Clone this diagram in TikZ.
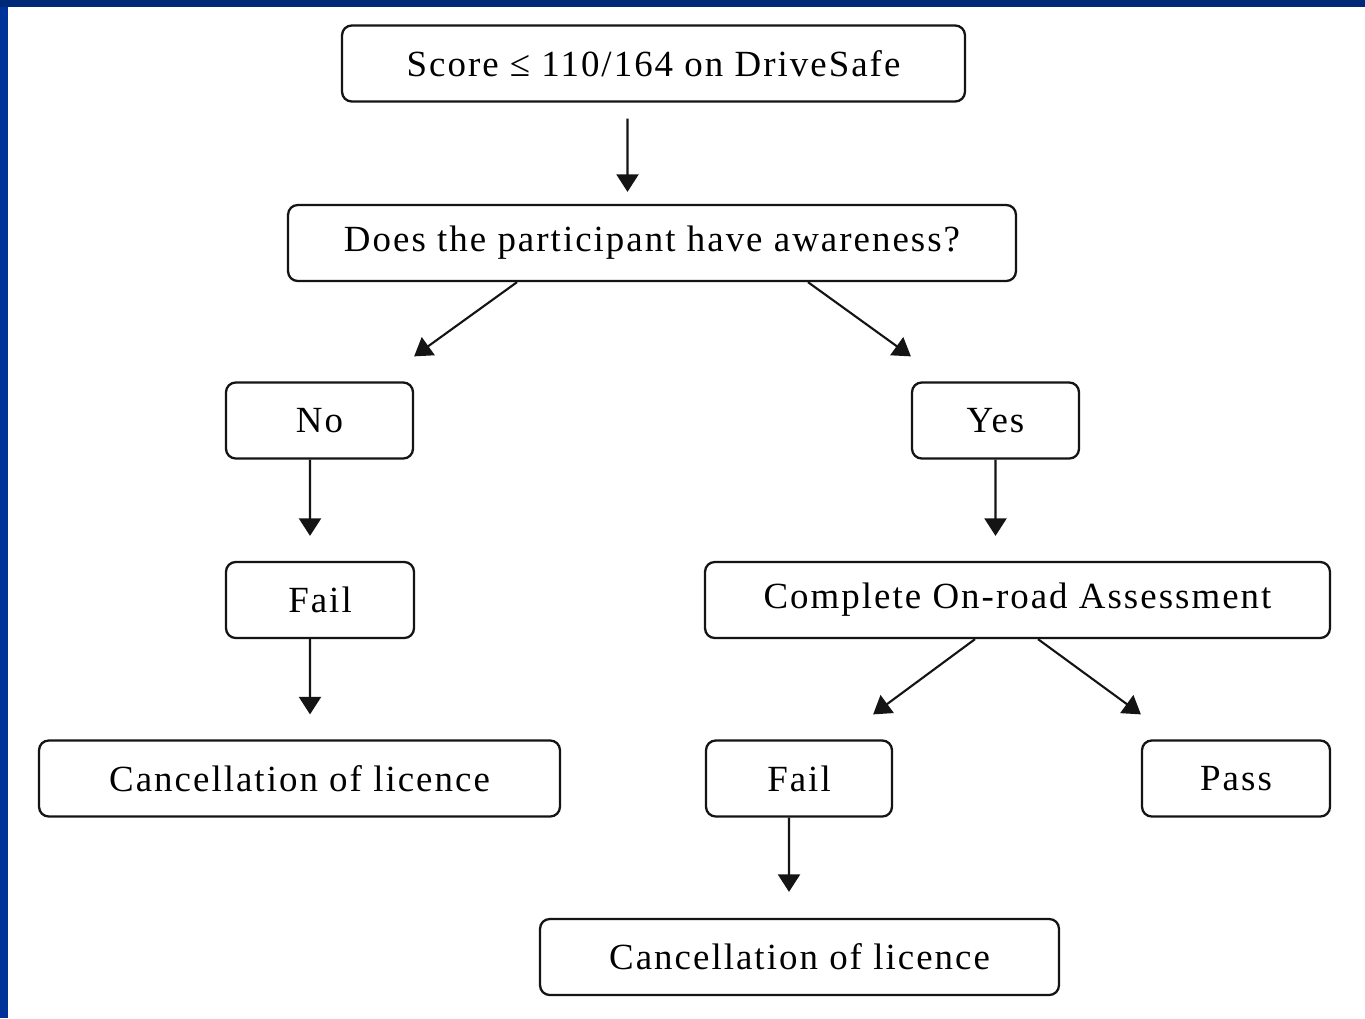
\documentclass[tikz,border=0pt]{standalone}
\usepackage{fontspec}
\setmainfont{Liberation Serif}
\newfontfamily\flowfont[LetterSpace=5.5]{Liberation Serif}
\usetikzlibrary{arrows.meta,calc}
\definecolor{frametop}{RGB}{0,40,120}
\definecolor{frameleft}{RGB}{0,51,153}
\definecolor{figline}{RGB}{20,20,20}
\tikzset{
  flowbox/.style ={draw=figline, line width=1.3pt, rounded corners=5.5pt,
                   minimum height=1.52cm, inner sep=2pt,
                   font=\flowfont\fontsize{21}{25}\selectfont},
  flowarr/.style ={draw=figline, line width=1.2pt,
                   -{Triangle[length=0.35cm,width=0.44cm]}},
}
\begin{document}
\begin{tikzpicture}[x=0.02cm,y=-0.02cm]
  \useasboundingbox (0,0) rectangle (1365,1018);
  \fill[white] (0,0) rectangle (1365,1018);
  \fill[frameleft] (0,0) rectangle (8,1018);
  \fill[frametop] (0,0) rectangle (1365,7);
  % boxes
  \node[flowbox,minimum width=12.46cm] (score)   at (653.5,63.5) {Score ≤ 110/164 on DriveSafe};
  \node[flowbox,minimum width=14.56cm] (aware)   at (652,243)    {Does the participant have awareness?};
  \node[flowbox,minimum width=3.74cm]  (no)      at (319.5,420.5) {No};
  \node[flowbox,minimum width=3.34cm]  (yes)     at (995.5,420.5) {Yes};
  \node[flowbox,minimum width=3.76cm]  (failA)   at (320,600)    {Fail};
  \node[flowbox,minimum width=12.5cm]  (onroad)  at (1017.5,600) {Complete On-road Assessment};
  \node[flowbox,minimum width=10.42cm] (cancelA) at (299.5,778.5) {Cancellation of licence};
  \node[flowbox,minimum width=3.72cm]  (failB)   at (799,778.5)  {Fail};
  \node[flowbox,minimum width=3.76cm]  (pass)    at (1236,778.5) {Pass};
  \node[flowbox,minimum width=10.38cm] (cancelB) at (799.5,957)  {Cancellation of licence};
  % arrows
  \draw[flowarr] ([xshift=-0.52cm,yshift=-0.32cm]score.south) -- ([xshift=-0.49cm,yshift=0.24cm]aware.north);
  \draw[flowarr] ([xshift=-2.7cm]aware.south) -- ([yshift=0.5cm]no.north east);
  \draw[flowarr] ([xshift=3.12cm]aware.south) -- ([yshift=0.5cm]yes.north west);
  \draw[flowarr] ([xshift=-0.19cm]no.south) -- ([xshift=-0.2cm,yshift=0.5cm]failA.north);
  \draw[flowarr] (yes.south) -- ([xshift=-0.44cm,yshift=0.5cm]onroad.north);
  \draw[flowarr] ([xshift=-0.2cm]failA.south) -- ([xshift=0.21cm,yshift=0.5cm]cancelA.north);
  \draw[flowarr] ([xshift=-0.85cm]onroad.south) -- ([xshift=-0.4cm,yshift=0.5cm]failB.north east);
  \draw[flowarr] ([xshift=0.41cm]onroad.south) -- ([yshift=0.5cm]pass.north west);
  \draw[flowarr] ([xshift=-0.2cm]failB.south) -- ([xshift=-0.21cm,yshift=0.52cm]cancelB.north);
\end{tikzpicture}
\end{document}
